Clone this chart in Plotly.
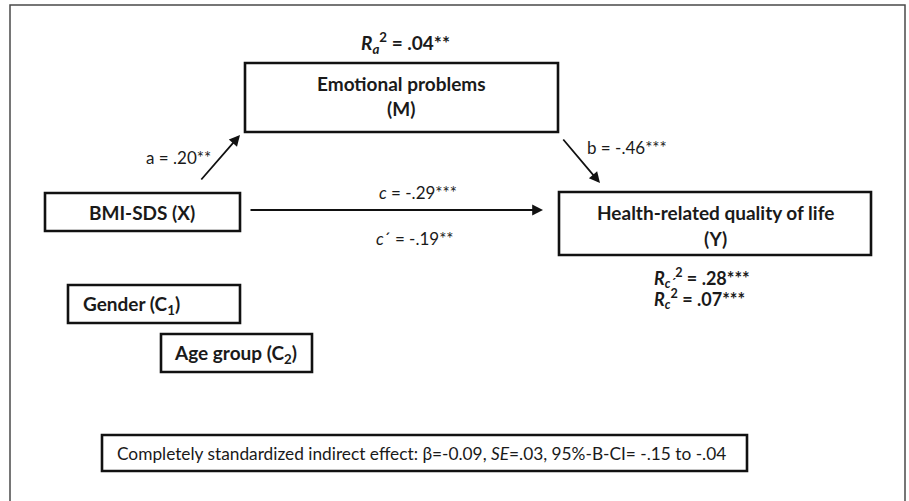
import plotly.graph_objects as go

# ---- data ----
node_titles = ["Emotional problems", "BMI-SDS (X)", "Health-related quality of life", "Gender (C<sub>1</sub>)", "Age group (C<sub>2</sub>)"]
node_subtitles = ["(M)", "", "(Y)", "", ""]
path_names = ["a", "b", "<i>c</i>", "<i>c</i>´"]
path_coefs = [".20", "-.46", "-.29", "-.19"]
path_stars = ["**", "***", "***", "**"]
r2_labels = ["<i>R<sub>a</sub></i><sup>2</sup>", "<i>R<sub>c´</sub></i><sup>2</sup>", "<i>R<sub>c</sub></i><sup>2</sup>"]
r2_values = [".04", ".28", ".07"]
r2_stars = ["**", "***", "***"]
indirect_beta = "-0.09"
indirect_se = ".03"
indirect_ci = ["-.15", "-.04"]

# ---- layout (positions in pixel-like axis units) ----
W, H = 909, 501
FONT = "Lato, 'Open Sans', sans-serif"
boxes = [(245, 63, 558, 132), (45, 193, 240, 231), (559, 192, 871, 255), (68, 285, 240, 323), (161, 334, 312, 372)]

fig = go.Figure()
fig.add_trace(go.Scatter(x=[], y=[], mode="markers", showlegend=False))

shapes = []
# outer frame
shapes.append(dict(type="rect", x0=10, y0=5, x1=905, y1=520, line=dict(color="#4a4a4a", width=1.5)))
for (x0, y0, x1, y1) in boxes:
    shapes.append(dict(type="rect", x0=x0, y0=y0, x1=x1, y1=y1, line=dict(color="#111", width=2.6)))
# bottom info box
shapes.append(dict(type="rect", x0=102, y0=435, x1=747, y1=471, line=dict(color="#111", width=2.6)))

ann = []
def txt(x, y, s, size=14, xanchor="center", bold=False):
    if bold:
        s = "<b>" + s + "</b>"
    ann.append(dict(x=x, y=y, text=s, showarrow=False, xanchor=xanchor, yanchor="middle",
                    font=dict(family=FONT, size=size, color="#1a1a1a")))

BS = 19   # bold label size
RS = 17   # regular label size

# node labels
txt(401, 83, node_titles[0], BS, bold=True)
txt(401, 108, node_subtitles[0], BS, bold=True)
txt(142, 212, node_titles[1], BS, bold=True)
txt(715, 212, node_titles[2], BS, bold=True)
txt(715, 238, node_subtitles[2], BS, bold=True)
txt(81, 305, node_titles[3], BS, xanchor="left", bold=True)
txt(172, 354, node_titles[4], BS, xanchor="left", bold=True)

# R2 labels
txt(405, 43, f"{r2_labels[0]} = {r2_values[0]}{r2_stars[0]}", BS, bold=True)
txt(652, 278, f"{r2_labels[1]} = {r2_values[1]}{r2_stars[1]}", 18, xanchor="left", bold=True)
txt(652, 299, f"{r2_labels[2]} = {r2_values[2]}{r2_stars[2]}", 18, xanchor="left", bold=True)

# path labels
txt(213, 157, f"{path_names[0]} = {path_coefs[0]}{path_stars[0]}", RS, xanchor="right")
txt(585, 147, f"{path_names[1]} = {path_coefs[1]}{path_stars[1]}", RS, xanchor="left")
txt(418, 192, f"{path_names[2]} = {path_coefs[2]}{path_stars[2]}", RS)
txt(415, 238, f"{path_names[3]} = {path_coefs[3]}{path_stars[3]}", RS)

# indirect effect
txt(115, 453, f"Completely standardized indirect effect: β={indirect_beta}, <i>SE</i>={indirect_se}, 95%-B-CI= {indirect_ci[0]} to {indirect_ci[1]}", 17.3, xanchor="left")

# arrows
def arrow(x0, y0, x1, y1):
    ann.append(dict(x=x1, y=y1, ax=x0, ay=y0, xref="x", yref="y", axref="x", ayref="y",
                    text="", showarrow=True, arrowhead=2, arrowsize=1.2, arrowwidth=1.8, arrowcolor="#111"))

arrow(200, 181, 240, 135)
arrow(562, 138, 600, 183)
arrow(249, 210, 543, 210)

fig.update_layout(
    width=W, height=H, margin=dict(l=0, r=0, t=0, b=0),
    paper_bgcolor="white", plot_bgcolor="white",
    xaxis=dict(range=[0, W], visible=False, fixedrange=True),
    yaxis=dict(range=[H, 0], visible=False, fixedrange=True),
    shapes=shapes, annotations=ann, showlegend=False,
)
fig.write_html("out.html", config={"displayModeBar": False},
               post_script="document.body.style.margin='0';document.body.style.overflow='hidden';")
